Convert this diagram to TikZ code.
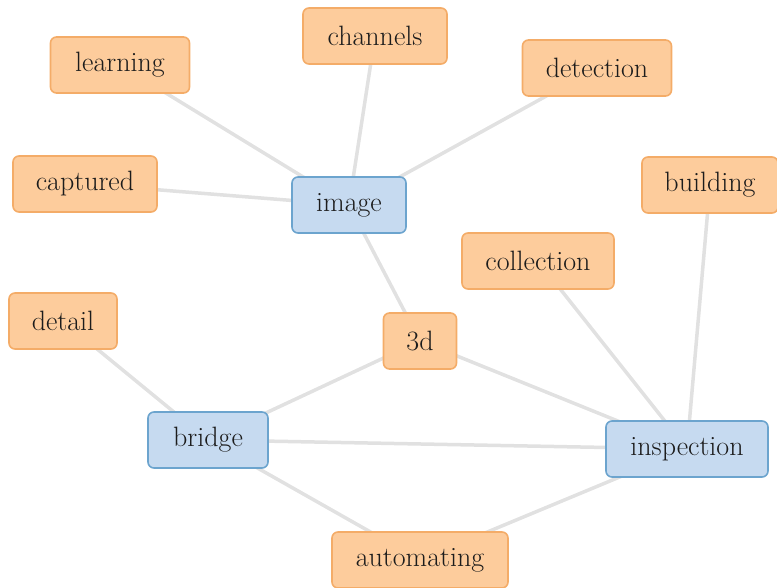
\documentclass[tikz,border=0pt]{standalone}
\usepackage{fontspec}
\setmainfont{Latin Modern Roman}
\definecolor{termfill}{RGB}{253,204,156}
\definecolor{termline}{RGB}{244,172,104}
\definecolor{keyfill}{RGB}{198,218,240}
\definecolor{keyline}{RGB}{108,164,206}
\definecolor{linkgray}{RGB}{225,225,225}
\definecolor{ink}{RGB}{28,28,28}
\newcommand{\boxfont}{\fontsize{28}{32}\selectfont}
\pgfdeclarelayer{bg}
\pgfsetlayers{bg,main}
\tikzset{
  box/.style={rounded corners=6pt, line width=1.6pt, minimum height=56pt,
    inner xsep=10pt, inner ysep=0pt, font=\boxfont, text=ink},
  term/.style={box, fill=termfill, draw=termline},
  key/.style={box, fill=keyfill, draw=keyline},
  link/.style={draw=linkgray, line width=3.5pt}
}
\begin{document}
\begin{tikzpicture}[x=1pt, y=-1pt]
\useasboundingbox (0,0) rectangle (777,588);
% keywords
\node[key, minimum width=114pt] (image) at (349,205) {image};
\node[key, minimum width=120pt] (bridge) at (208,440) {bridge};
\node[key, minimum width=162pt] (inspection) at (687,449) {inspection};
% related terms
\node[term, minimum width=139pt] (learning) at (120,65) {learning};
\node[term, minimum width=144pt] (channels) at (375,36) {channels};
\node[term, minimum width=149pt] (detection) at (597,68) {detection};
\node[term, minimum width=144pt] (captured) at (85,184) {captured};
\node[term, minimum width=136pt] (building) at (710,185) {building};
\node[term, minimum width=152pt] (collection) at (538,261) {collection};
\node[term, minimum width=108pt] (detail) at (63,321) {detail};
\node[term, minimum width=73pt] (threed) at (420,341) {3d};
\node[term, minimum width=176pt] (automating) at (420,560) {automating};
% links, drawn behind the boxes
\begin{pgfonlayer}{bg}
\draw[link] (learning.center) -- (image.center);
\draw[link] (channels.center) -- (image.center);
\draw[link] (detection.center) -- (image.center);
\draw[link] (captured.center) -- (image.center);
\draw[link] (image.center) -- (threed.center);
\draw[link] (threed.center) -- (bridge.center);
\draw[link] (threed.center) -- (inspection.center);
\draw[link] (collection.center) -- (inspection.center);
\draw[link] (building.center) -- (inspection.center);
\draw[link] (detail.center) -- (bridge.center);
\draw[link] (bridge.center) -- (inspection.center);
\draw[link] (bridge.center) -- (automating.center);
\draw[link] (inspection.center) -- (automating.center);
\end{pgfonlayer}
\end{tikzpicture}
\end{document}
